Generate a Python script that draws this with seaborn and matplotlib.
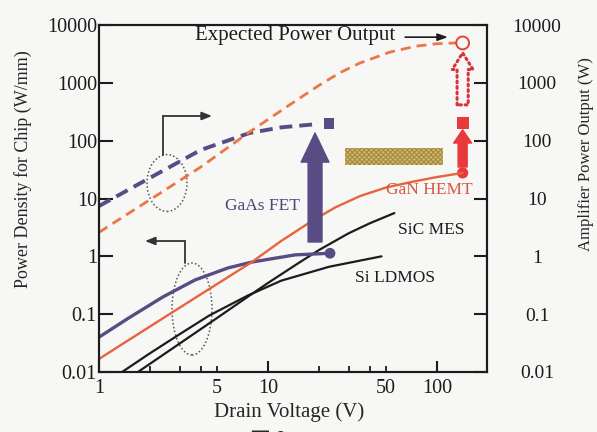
import seaborn as sns
import matplotlib.pyplot as plt
from matplotlib.patches import Ellipse, Rectangle
from matplotlib.ticker import FixedLocator, FixedFormatter, NullLocator

# power density per chip (W/mm) against drain voltage (V)
gaas_v = [1, 1.5, 2.4, 3.7, 5.8, 8.1, 14.5, 23.3]
gaas_p = [0.04, 0.086, 0.2, 0.39, 0.63, 0.8, 1.06, 1.13]

gan_v = [1, 2, 4, 8, 12, 18, 25, 35, 50, 75, 100, 142]
gan_p = [0.0168, 0.061, 0.22, 0.79, 1.85, 4.0, 7.0, 11.0, 15.5, 20.0, 23.5, 27.7]

sic_v = [1.7, 3, 5, 7.6, 10, 15, 20, 30, 40, 56]
sic_p = [0.01, 0.031, 0.086, 0.2, 0.346, 0.75, 1.28, 2.5, 3.72, 5.6]

ldmos_v = [1.37, 2, 3, 4.5, 7.6, 12, 23, 47]
ldmos_p = [0.01, 0.021, 0.045, 0.095, 0.21, 0.38, 0.66, 1.0]

# amplifier power output (W), right axis
gaas_amp_v = [1, 2, 4, 7.8, 12, 20]
gaas_amp_p = [7.4, 22.7, 69, 136, 170, 195]

gan_amp_v = [1, 2, 4, 7.8, 13.5, 20, 26.7, 35, 52.7, 75, 100, 130]
gan_amp_p = [2.6, 9.5, 35, 142, 420, 900, 1500, 2200, 3400, 4300, 4750, 4900]

# end markers
gaas_end = (23.3, 1.13)
gaas_amp_end = (23, 200)
gan_end = (142, 27.7)
gan_amp_now = (142, 200)
gan_amp_expected = (142, 4900)

x_major = [1, 10, 100]
x_minor = [2, 3, 4, 5, 20, 30, 40, 50]
x_minor_labels = ['', '', '', '5', '', '', '', '50']
y_ticks = [0.01, 0.1, 1, 10, 100, 1000, 10000]
y_labels = ['0.01', '0.1', '1', '10', '100', '1000', '10000']

PURPLE = '#594c84'
ORANGE = '#e8633f'
RED = '#e83a3a'
BLACK = '#1c1c1c'

sns.set_theme(style='ticks')
plt.rcParams['font.family'] = ['Liberation Serif', 'DejaVu Serif']

fig = plt.figure(figsize=(5.97, 4.32), dpi=100, facecolor='#f7f7f5')
ax = fig.add_axes([0.1658, 0.1389, 0.65, 0.8032])
ax.set_facecolor('#f7f7f5')
ax.set_xscale('log')
ax.set_yscale('log')
ax.set_xlim(1, 198)
ax.set_ylim(0.01, 10000)

sns.lineplot(x=ldmos_v, y=ldmos_p, ax=ax, color=BLACK, lw=1.6)
sns.lineplot(x=sic_v, y=sic_p, ax=ax, color=BLACK, lw=1.6)
sns.lineplot(x=gaas_v, y=gaas_p, ax=ax, color=PURPLE, lw=2.4)
sns.lineplot(x=gan_v, y=gan_p, ax=ax, color=ORANGE, lw=1.7)
sns.lineplot(x=gaas_amp_v, y=gaas_amp_p, ax=ax, color=PURPLE, lw=2.8,
             linestyle=(0, (3.3, 1.8)))
sns.lineplot(x=gan_amp_v, y=gan_amp_p, ax=ax, color='#ec7644', lw=2.0,
             linestyle=(0, (3.6, 2.2)))

# arrows showing the jump from chip to amplifier
ax.annotate('', xy=(19, 136), xytext=(19, 1.77),
            arrowprops=dict(arrowstyle='simple,head_width=2.0,head_length=2.1,tail_width=1.0',
                            mutation_scale=10, color=PURPLE, shrinkA=0, shrinkB=0))
ax.annotate('', xy=(142, 154), xytext=(142, 35),
            arrowprops=dict(arrowstyle='simple,head_width=1.3,head_length=0.95,tail_width=0.65',
                            mutation_scale=10, color=RED, shrinkA=0, shrinkB=0))
ax.annotate('', xy=(142, 3300), xytext=(142, 416),
            arrowprops=dict(arrowstyle='simple,head_width=1.5,head_length=1.2,tail_width=0.8',
                            mutation_scale=10, fc='none', ec='#d8323e', lw=2.2,
                            ls=(0, (0.6, 1.2)), shrinkA=0, shrinkB=0))

sns.scatterplot(x=[gaas_end[0]], y=[gaas_end[1]], ax=ax, color=PURPLE, s=60,
                marker='o', edgecolor='none')
sns.scatterplot(x=[gaas_amp_end[0]], y=[gaas_amp_end[1]], ax=ax, color=PURPLE, s=60,
                marker='s', edgecolor='none')
sns.scatterplot(x=[gan_end[0]], y=[gan_end[1]], ax=ax, color=RED, s=65,
                marker='o', edgecolor='none')
sns.scatterplot(x=[gan_amp_now[0]], y=[gan_amp_now[1]], ax=ax, color=RED, s=75,
                marker='s', edgecolor='none')
ax.scatter([gan_amp_expected[0]], [gan_amp_expected[1]], s=85, marker='o',
           facecolor='none', edgecolor='#e0453a', lw=1.4, zorder=5)

# hatched band
plt.rcParams['hatch.linewidth'] = 0.8
ax.add_patch(Rectangle((0.634, 0.5965), 0.253, 0.049, transform=ax.transAxes,
                       facecolor='#d2b866', edgecolor='#a58a45', hatch='xxxxxxx', lw=0))

# dotted ellipses with bracket arrows
ax.add_patch(Ellipse((0.1753, 0.5447), 0.103, 0.164, transform=ax.transAxes,
                     fill=False, ec='#555555', ls=(0, (1, 1.5)), lw=1.1))
ax.add_patch(Ellipse((0.2397, 0.1816), 0.103, 0.265, transform=ax.transAxes,
                     fill=False, ec='#555555', ls=(0, (1, 1.5)), lw=1.1))
ax.plot([0.165, 0.165], [0.6254, 0.7378], transform=ax.transAxes, color='#333333', lw=1.3)
ax.annotate('', xy=(0.2912, 0.7378), xytext=(0.165, 0.7378), xycoords='axes fraction',
            arrowprops=dict(arrowstyle='-|>,head_width=0.2,head_length=0.5',
                            color='#333333', lw=1.3, shrinkA=0, shrinkB=0))
ax.plot([0.2216, 0.2216], [0.3141, 0.3775], transform=ax.transAxes, color='#333333', lw=1.3)
ax.annotate('', xy=(0.1186, 0.3775), xytext=(0.2216, 0.3775), xycoords='axes fraction',
            arrowprops=dict(arrowstyle='-|>,head_width=0.2,head_length=0.5',
                            color='#333333', lw=1.3, shrinkA=0, shrinkB=0))

# labels in the plot
ax.text(0.505, 0.971, 'Expected Power Output', transform=ax.transAxes,
        ha='center', va='center', fontsize=15, color=BLACK)
ax.annotate('', xy=(0.899, 0.965), xytext=(0.789, 0.965), xycoords='axes fraction',
            arrowprops=dict(arrowstyle='-|>,head_width=0.18,head_length=0.5',
                            color=BLACK, lw=1.2, shrinkA=0, shrinkB=0))
ax.text(0.42, 0.478, 'GaAs FET', transform=ax.transAxes, ha='center', va='center',
        fontsize=12.5, color='#4f4478')
ax.text(0.85, 0.5245, 'GaN HEMT', transform=ax.transAxes, ha='center', va='center',
        fontsize=12.5, color='#d8553e')
ax.text(0.856, 0.409, 'SiC MES', transform=ax.transAxes, ha='center', va='center',
        fontsize=12.5, color=BLACK)
ax.text(0.763, 0.271, 'Si LDMOS', transform=ax.transAxes, ha='center', va='center',
        fontsize=12.5, color=BLACK)

# axes, ticks
for s in ax.spines.values():
    s.set_linewidth(1.5)
    s.set_color(BLACK)

ax.xaxis.set_major_locator(FixedLocator(x_major))
ax.xaxis.set_major_formatter(FixedFormatter(['1', '10', '100']))
ax.xaxis.set_minor_locator(FixedLocator(x_minor))
ax.xaxis.set_minor_formatter(FixedFormatter(x_minor_labels))
ax.set_yticks(y_ticks, y_labels)
ax.yaxis.set_minor_locator(NullLocator())

ax.tick_params(axis='x', which='major', direction='in', length=8, width=1.5,
               labelsize=14.5, pad=5, colors=BLACK)
ax.tick_params(axis='x', which='minor', direction='in', length=4.5, width=1.3,
               labelsize=14.5, pad=5, colors=BLACK)
ax.tick_params(axis='y', which='major', direction='in', length=10, width=1.5,
               labelsize=14.5, pad=1.5, colors=BLACK, left=True, right=False)

ax2 = ax.twinx()
ax2.set_yscale('log')
ax2.set_ylim(0.01, 10000)
ax2.set_yticks(y_ticks, y_labels)
ax2.yaxis.set_minor_locator(NullLocator())
ax2.tick_params(axis='y', which='major', direction='in', length=9.5, width=1.5,
                labelsize=14, pad=36, colors=BLACK)
for lbl in ax2.get_yticklabels():
    lbl.set_ha('center')
for s in ax2.spines.values():
    s.set_linewidth(1.5)
    s.set_color(BLACK)

ax.set_xlabel('Drain Voltage (V)', fontsize=15, va='center')
ax.xaxis.set_label_coords(0.49, -0.115)
ax.set_ylabel('Power Density for Chip (W/mm)', fontsize=13, va='center')
ax.yaxis.set_label_coords(-0.196, 0.585)
ax2.set_ylabel('Amplifier Power Output (W)', fontsize=12, rotation=90, va='center')
ax2.yaxis.set_label_coords(1.2552, 0.628)

# figure caption, cut off by the bottom edge as in the scan
fig.text(0.449, 0.005, '図 2', ha='center', va='top', fontsize=15,
         family=['Noto Sans CJK JP', 'DejaVu Sans'])

fig.savefig('out.png', dpi=100, facecolor=fig.get_facecolor())
